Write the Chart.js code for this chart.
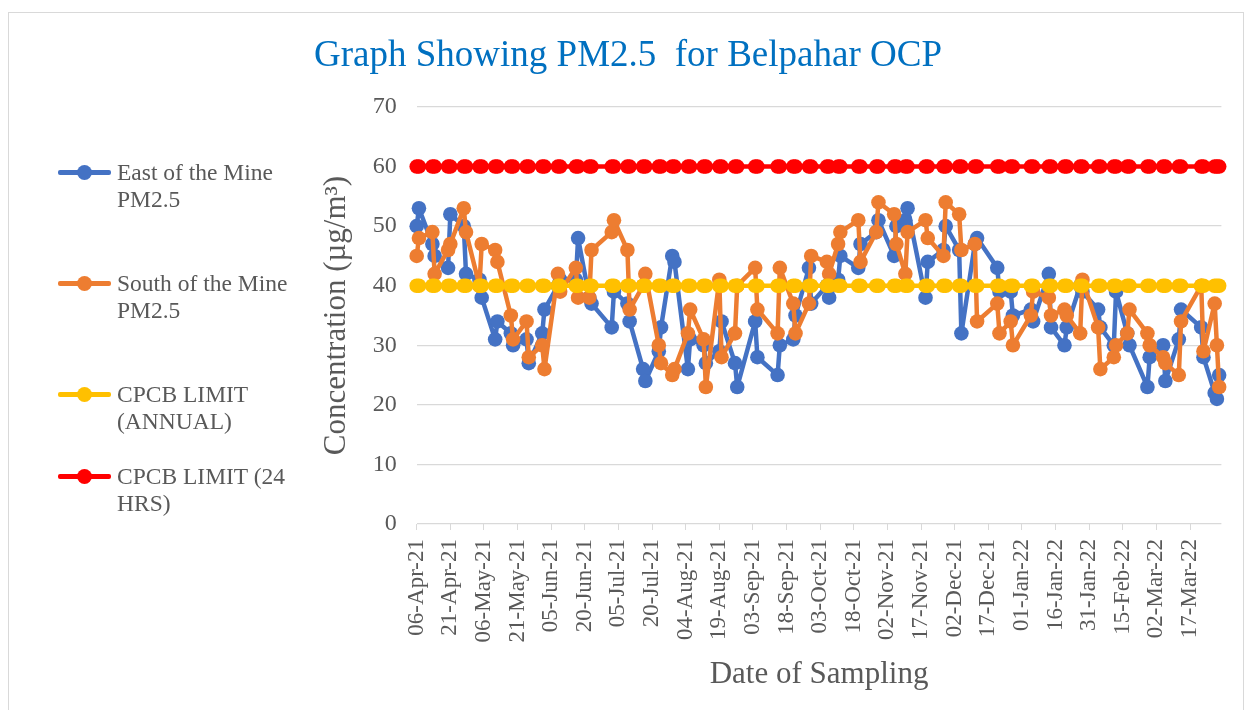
<!DOCTYPE html>
<html>
<head>
<meta charset="utf-8">
<script src="https://cdn.jsdelivr.net/npm/chart.js@4.4.0/dist/chart.umd.min.js"></script>
<style>
  html, body { margin: 0; padding: 0; background: #ffffff; }
  #wrap { position: relative; width: 1250px; height: 710px; overflow: hidden; font-family: "Liberation Serif", "Times New Roman", serif; }
  #frame { position: absolute; left: 8px; top: 12px; width: 1236px; height: 720px; border: 1px solid #d9d9d9; box-sizing: border-box; }
  #title { position: absolute; left: 3px; top: 34px; width: 1250px; text-align: center; color: #0070C0; font-size: 37px; line-height: 40px; white-space: pre; }
  canvas { position: absolute; left: 0; top: 0; }
  .lg-line { position: absolute; left: 58px; width: 53px; height: 5px; border-radius: 2px; }
  .lg-dot { position: absolute; left: 77px; width: 15px; height: 15px; border-radius: 50%; }
  .lg-text { position: absolute; left: 117px; width: 172px; color: #595959; font-size: 23.5px; line-height: 27px; }
</style>
</head>
<body>
<div id="wrap">
  <div id="frame"></div>
  <canvas id="c" width="1250" height="710"></canvas>
  <div id="title">Graph Showing PM2.5  for Belpahar OCP</div>
  <div id="legend"></div>
</div>
<script>
// ---------------- DATA ----------------
const axisStart = "2021-04-06";
const axisEnd = "2022-03-31";

const sampleDates = [
  "2021-04-06","2021-04-07","2021-04-13","2021-04-14","2021-04-20","2021-04-21","2021-04-27","2021-04-28",
  "2021-05-04","2021-05-05","2021-05-11","2021-05-12","2021-05-18","2021-05-19","2021-05-25","2021-05-26",
  "2021-06-01","2021-06-02","2021-06-08","2021-06-09","2021-06-16","2021-06-17","2021-06-22","2021-06-23",
  "2021-07-02","2021-07-03","2021-07-09","2021-07-10","2021-07-16","2021-07-17","2021-07-23","2021-07-24","2021-07-29","2021-07-30",
  "2021-08-05","2021-08-06","2021-08-12","2021-08-13","2021-08-19","2021-08-20","2021-08-26","2021-08-27",
  "2021-09-04","2021-09-05","2021-09-14","2021-09-15","2021-09-21","2021-09-22","2021-09-28","2021-09-29",
  "2021-10-06","2021-10-07","2021-10-11","2021-10-12","2021-10-20","2021-10-21","2021-10-28","2021-10-29",
  "2021-11-05","2021-11-06","2021-11-10","2021-11-11","2021-11-19","2021-11-20","2021-11-27","2021-11-28",
  "2021-12-04","2021-12-05","2021-12-11","2021-12-12","2021-12-21","2021-12-22","2021-12-27","2021-12-28",
  "2022-01-05","2022-01-06","2022-01-13","2022-01-14","2022-01-20","2022-01-21","2022-01-27","2022-01-28",
  "2022-02-04","2022-02-05","2022-02-11","2022-02-12","2022-02-17","2022-02-18","2022-02-26","2022-02-27",
  "2022-03-05","2022-03-06","2022-03-12","2022-03-13","2022-03-22","2022-03-23","2022-03-28","2022-03-29","2022-03-30"
];

const eastPM25 = [
  50,53, 47,45, 43,52, 50,42,
  41,38, 31,34, 32,30, 31,27,
  32,36, 40,41, 41,48, 38,37,
  33,39, 37,34, 26,24, 29,33, 45,44,
  26,31, 30,27, 29,34, 27,23,
  34,28, 25,30, 31,35, 43,37,
  40,38, 41,45, 43,47, 49,51,
  45,50, 51,53, 38,44, 46,50,
  46,32, 47,48, 43,39, 39,35,
  36,34, 42,33, 30,33, 40,39,
  36,33, 30,39, 32,30, 23,28,
  30,24, 31,36, 33,28, 22,21,25
];

const southPM25 = [
  45,48, 49,42, 46,47, 53,49,
  40,47, 46,44, 35,31, 34,28,
  30,26, 42,39, 43,38, 38,46,
  49,51, 46,36, 40,42, 30,27, 25,26,
  32,36, 31,23, 41,28, 32,40,
  43,36, 32,43, 37,32, 37,45,
  44,42, 47,49, 51,44, 49,54,
  52,47, 42,49, 51,48, 45,54,
  52,46, 47,34, 37,32, 34,30,
  35,39, 38,35, 36,35, 32,41,
  33,26, 28,30, 32,36, 32,30,
  28,27, 25,34, 40,29, 37,30,23
];

const cpcbAnnual = [
  40,40,40,40,40,40,40,40, 40,40,40,40,40,40,40,40, 40,40,40,40,40,40,40,40,
  40,40,40,40,40,40,40,40,40,40, 40,40,40,40,40,40,40,40, 40,40,40,40,40,40,40,40,
  40,40,40,40,40,40,40,40, 40,40,40,40,40,40,40,40, 40,40,40,40,40,40,40,40,
  40,40,40,40,40,40,40,40, 40,40,40,40,40,40,40,40, 40,40,40,40,40,40,40,40,40
];

const cpcb24Hrs = [
  60,60,60,60,60,60,60,60, 60,60,60,60,60,60,60,60, 60,60,60,60,60,60,60,60,
  60,60,60,60,60,60,60,60,60,60, 60,60,60,60,60,60,60,60, 60,60,60,60,60,60,60,60,
  60,60,60,60,60,60,60,60, 60,60,60,60,60,60,60,60, 60,60,60,60,60,60,60,60,
  60,60,60,60,60,60,60,60, 60,60,60,60,60,60,60,60, 60,60,60,60,60,60,60,60,60
];

const seriesLabels = ["East of the Mine PM2.5", "South of the Mine PM2.5", "CPCB LIMIT (ANNUAL)", "CPCB LIMIT (24 HRS)"];

const xTickLabels = [
  "06-Apr-21","21-Apr-21","06-May-21","21-May-21","05-Jun-21","20-Jun-21","05-Jul-21","20-Jul-21",
  "04-Aug-21","19-Aug-21","03-Sep-21","18-Sep-21","03-Oct-21","18-Oct-21","02-Nov-21","17-Nov-21",
  "02-Dec-21","17-Dec-21","01-Jan-22","16-Jan-22","31-Jan-22","15-Feb-22","02-Mar-22","17-Mar-22"
];

const yMin = 0, yMax = 70, yStep = 10;

// ---------------- HELPERS ----------------
const DAY = 86400000;
const MONTHS = {Jan:0,Feb:1,Mar:2,Apr:3,May:4,Jun:5,Jul:6,Aug:7,Sep:8,Oct:9,Nov:10,Dec:11};
function parseISO(s) { const p = s.split('-').map(Number); return Date.UTC(p[0], p[1]-1, p[2]); }
function parseTick(s) { const p = s.split('-'); return Date.UTC(2000 + Number(p[2]), MONTHS[p[1]], Number(p[0])); }
const t0 = parseISO(axisStart);
const toDay = ms => Math.round((ms - t0) / DAY);
const xDays = sampleDates.map(s => toDay(parseISO(s)));
const tickDays = xTickLabels.map(s => toDay(parseTick(s)));
const pts = arr => xDays.map((x, i) => ({ x: x, y: arr[i] }));

const COLORS = ["#4472C4", "#ED7D31", "#FFC000", "#FF0000"];
const FONT = "'Liberation Serif', 'Times New Roman', serif";
const GREY = "#595959";

function ds(label, data, color, order) {
  return {
    label: label, data: pts(data), borderColor: color, backgroundColor: color,
    pointBackgroundColor: color, pointBorderColor: color, pointBorderWidth: 0,
    borderWidth: 4.5, borderJoinStyle: 'round', borderCapStyle: 'round',
    pointRadius: 7.3, pointHoverRadius: 7.3, tension: 0,
    order: order, clip: false
  };
}

const chart = new Chart(document.getElementById('c'), {
  type: 'line',
  data: {
    datasets: [
      ds(seriesLabels[0], eastPM25, COLORS[0], 4),
      ds(seriesLabels[1], southPM25, COLORS[1], 3),
      ds(seriesLabels[2], cpcbAnnual, COLORS[2], 2),
      ds(seriesLabels[3], cpcb24Hrs, COLORS[3], 1)
    ]
  },
  options: {
    responsive: false,
    animation: false,
    events: [],
    layout: { padding: { left: 300, right: 28.6, top: 107, bottom: 0 } },
    plugins: { legend: { display: false }, title: { display: false }, tooltip: { enabled: false } },
    scales: {
      x: {
        type: 'linear',
        min: 0,
        max: toDay(parseISO(axisEnd)),
        afterBuildTicks: axis => { axis.ticks = tickDays.map(v => ({ value: v })); },
        afterFit: s => { s.height = 186; },
        ticks: {
          autoSkip: false, minRotation: 90, maxRotation: 90, padding: 9,
          color: GREY, font: { family: FONT, size: 23 },
          callback: (v, i) => xTickLabels[i]
        },
        grid: { drawOnChartArea: false, drawTicks: true, tickLength: 6, color: '#d9d9d9', lineWidth: 1 },
        border: { display: false },
        title: { display: true, text: 'Date of Sampling', color: GREY, font: { family: FONT, size: 31 }, padding: { top: 0, bottom: 17 } }
      },
      y: {
        min: yMin, max: yMax,
        afterFit: s => { s.width = 116.7; },
        ticks: { stepSize: yStep, padding: 20, color: GREY, font: { family: FONT, size: 24 } },
        grid: { drawTicks: false, color: '#d9d9d9', lineWidth: 1.3 },
        border: { display: false },
        title: { display: true, text: 'Concentration (µg/m³)', color: GREY, font: { family: FONT, size: 31 }, padding: { top: 18, bottom: 0 } }
      }
    }
  }
});

// ---------------- HTML LEGEND (from datasets) ----------------
const legendY = [172, 283, 394, 476];
const legend = document.getElementById('legend');
chart.data.datasets.forEach((d, i) => {
  const y = legendY[i];
  const line = document.createElement('div');
  line.className = 'lg-line'; line.style.top = (y - 2.5) + 'px'; line.style.background = d.borderColor;
  const dot = document.createElement('div');
  dot.className = 'lg-dot'; dot.style.top = (y - 7.5) + 'px'; dot.style.background = d.borderColor;
  const txt = document.createElement('div');
  txt.className = 'lg-text'; txt.style.top = (y - 13.5) + 'px'; txt.textContent = d.label;
  legend.appendChild(line); legend.appendChild(dot); legend.appendChild(txt);
});
</script>
</body>
</html>
